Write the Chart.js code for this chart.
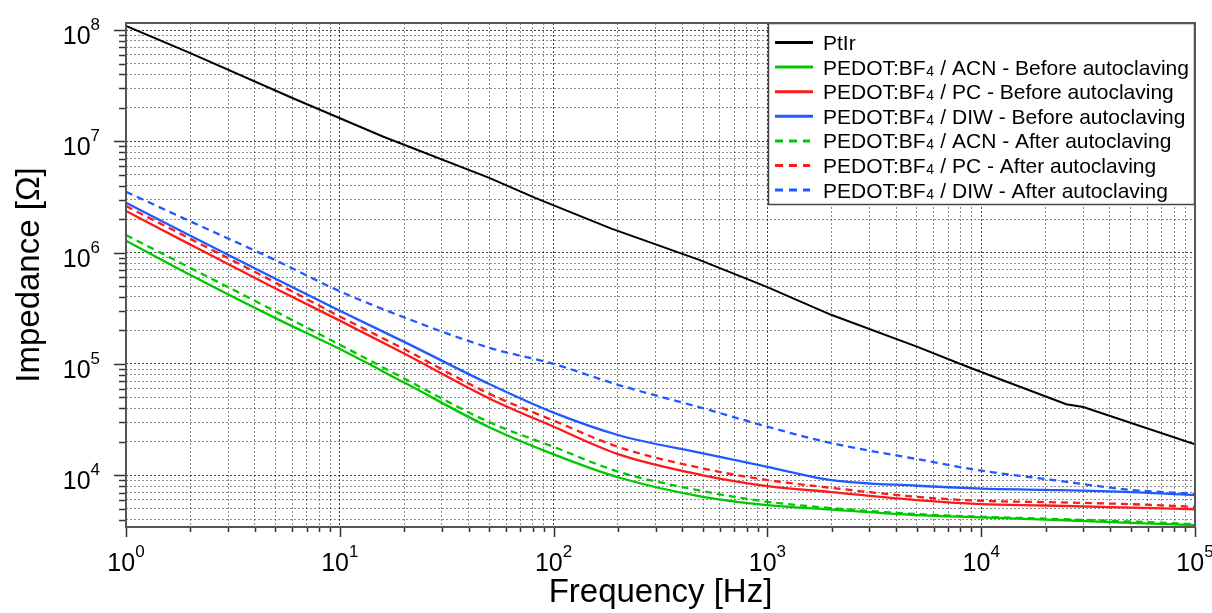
<!DOCTYPE html>
<html>
<head>
<meta charset="utf-8">
<script src="https://cdn.jsdelivr.net/npm/chart.js@4"></script>
<style>
  html, body { margin: 0; padding: 0; background: #fff; }
  canvas { display: block; }
</style>
</head>
<body>
<canvas id="impedanceChart" width="1212" height="613"></canvas>
<script>
"use strict";

// frequency points (Hz) shared by the PEDOT curves
const frequencies = [1, 2, 5, 10, 20, 50, 100, 200, 500, 1e3, 2e3, 5e3, 1e4, 2e4, 5e4, 1e5];

// PtIr reference electrode has its own sampling (small kinks)
const ptirFrequencies = [1, 2, 6, 16, 50, 82, 185, 480, 1000, 1550, 2000, 5000, 8000, 12000, 25000, 30000, 100000];
const ptirImpedance = [1.09e8, 6.2e7, 2.45e7, 1.1e7, 4.7e6, 3.1e6, 1.65e6, 8.6e5, 4.9e5, 3.4e5, 2.75e5, 1.43e5, 1.0e5, 7.4e4, 4.35e4, 4.1e4, 1.9e4];

// impedance (Ohm), before autoclaving
const acnBefore = [1.28e6, 6.3e5, 2.58e5, 1.36e5, 6.8e4, 2.7e4, 1.54e4, 9.6e3, 6.4e3, 5.4e3, 4.92e3, 4.39e3, 4.19e3, 4.0e3, 3.73e3, 3.57e3];
const pcBefore = [2.37e6, 1.18e6, 4.76e5, 2.45e5, 1.24e5, 4.9e4, 2.73e4, 1.55e4, 1.0e4, 8.0e3, 7.06e3, 5.98e3, 5.5e3, 5.35e3, 5.13e3, 4.95e3];
const diwBefore = [2.81e6, 1.42e6, 5.82e5, 3.0e5, 1.58e5, 6.6e4, 3.65e4, 2.3e4, 1.57e4, 1.19e4, 9.05e3, 8.05e3, 7.6e3, 7.4e3, 7.06e3, 6.64e3];

// impedance (Ohm), after autoclaving
const acnAfter = [1.44e6, 7.29e5, 2.97e5, 1.49e5, 7.4e4, 3.0e4, 1.8e4, 1.08e4, 7.2e3, 5.78e3, 5.07e3, 4.48e3, 4.24e3, 4.08e3, 3.84e3, 3.64e3];
const pcAfter = [2.62e6, 1.33e6, 5.38e5, 2.67e5, 1.36e5, 5.4e4, 3.1e4, 1.8e4, 1.15e4, 9.06e3, 7.7e3, 6.4e3, 5.9e3, 5.74e3, 5.5e3, 5.2e3];
const diwAfter = [3.52e6, 1.91e6, 8.55e5, 4.5e5, 2.62e5, 1.4e5, 1.0e5, 6.5e4, 4.0e4, 2.73e4, 1.94e4, 1.4e4, 1.1e4, 9.25e3, 7.4e3, 6.8e3];

const seriesLabels = [
  "PtIr",
  "PEDOT:BF₄ / ACN - Before autoclaving",
  "PEDOT:BF₄ / PC - Before autoclaving",
  "PEDOT:BF₄ / DIW - Before autoclaving",
  "PEDOT:BF₄ / ACN - After autoclaving",
  "PEDOT:BF₄ / PC - After autoclaving",
  "PEDOT:BF₄ / DIW - After autoclaving"
];

const FONT = "'Liberation Sans', Arial, sans-serif";
const GREEN = "rgb(0,200,0)";
const RED = "rgb(255,25,25)";
const BLUE = "rgb(30,90,255)";
const DASH = [7, 5];

function toPoints(xs, ys) {
  return xs.map((x, i) => ({ x: x, y: ys[i] }));
}

// 2 = decade, 1 = 2..9 x decade, 0 = anything else (axis limits)
function tickKind(v) {
  const e = Math.floor(Math.log10(v) + 1e-9);
  const m = v / Math.pow(10, e);
  if (Math.abs(m - Math.round(m)) > 1e-6) return 0;
  return Math.round(m) === 1 ? 2 : 1;
}

function gridColor(ctx) {
  if (!ctx.tick) return "transparent";
  const k = tickKind(ctx.tick.value);
  if (k === 0) return "transparent";
  return k === 2 ? "rgba(0,0,0,0.75)" : "rgba(0,0,0,0.45)";
}

function lineSet(label, data, color, dashed) {
  return {
    label: label,
    data: data,
    borderColor: color,
    backgroundColor: color,
    borderWidth: 2.3,
    borderDash: dashed ? DASH : [],
    pointRadius: 0,
    cubicInterpolationMode: "monotone",
    fill: false
  };
}

const datasets = [
  Object.assign(lineSet(seriesLabels[0], toPoints(ptirFrequencies, ptirImpedance), "#000", false), { cubicInterpolationMode: "default", tension: 0, borderWidth: 2 }),
  lineSet(seriesLabels[1], toPoints(frequencies, acnBefore), GREEN, false),
  lineSet(seriesLabels[2], toPoints(frequencies, pcBefore), RED, false),
  lineSet(seriesLabels[3], toPoints(frequencies, diwBefore), BLUE, false),
  lineSet(seriesLabels[4], toPoints(frequencies, acnAfter), GREEN, true),
  lineSet(seriesLabels[5], toPoints(frequencies, pcAfter), RED, true),
  lineSet(seriesLabels[6], toPoints(frequencies, diwAfter), BLUE, true)
];

// legend box in the upper right corner of the plot
const boxLegend = {
  id: "boxLegend",
  afterDatasetsDraw(chart) {
    const { ctx, chartArea: a } = chart;
    const w = 427, h = 182;
    const left = a.right - w, top = a.top;
    ctx.save();
    ctx.fillStyle = "#fff";
    ctx.fillRect(left, top, w, h);
    ctx.strokeStyle = "#444";
    ctx.lineWidth = 1.5;
    ctx.strokeRect(left + 0.5, top + 0.5, w - 1, h - 1);

    chart.data.datasets.forEach((ds, i) => {
      const cy = top + 19.5 + i * 24.6;
      ctx.strokeStyle = ds.borderColor;
      ctx.lineWidth = 3;
      ctx.setLineDash(ds.borderDash.length ? [8, 6] : []);
      ctx.beginPath();
      ctx.moveTo(left + 7, cy);
      ctx.lineTo(left + (ds.borderDash.length ? 42 : 45), cy);
      ctx.stroke();
      ctx.setLineDash([]);

      // text, with the small "4" of BF4
      const parts = ds.label.split("₄");
      let x = left + 55;
      const base = cy + 7.5;
      ctx.fillStyle = "#000";
      ctx.textBaseline = "alphabetic";
      ctx.textAlign = "left";
      ctx.font = "21px " + FONT;
      ctx.fillText(parts[0], x, base);
      x += ctx.measureText(parts[0]).width;
      if (parts.length > 1) {
        ctx.font = "14px " + FONT;
        ctx.fillText("4", x + 0.5, base + 1);
        x += ctx.measureText("4").width + 1;
        ctx.font = "21px " + FONT;
        ctx.fillText(parts[1], x, base);
      }
    });
    ctx.restore();
  }
};

// "10" with a raised exponent
function drawPower(ctx, exp, x, baseY, align) {
  ctx.font = "25px " + FONT;
  const wBase = ctx.measureText("10").width;
  ctx.font = "17px " + FONT;
  const wExp = ctx.measureText(exp).width;
  const total = wBase + wExp;
  const x0 = align === "center" ? x - total / 2 : x - total;
  ctx.font = "25px " + FONT;
  ctx.fillText("10", x0, baseY);
  ctx.font = "17px " + FONT;
  ctx.fillText(exp, x0 + wBase, baseY - 14);
}

// plot frame, outward tick marks (longer on decades) and decade labels
const frameTicks = {
  id: "frameTicks",
  afterDraw(chart) {
    const { ctx, chartArea: a, scales } = chart;
    ctx.save();
    ctx.strokeStyle = "#333";
    ctx.lineWidth = 1.5;
    ctx.beginPath();
    scales.x.ticks.forEach(t => {
      const k = tickKind(t.value);
      if (!k) return;
      const px = Math.round(scales.x.getPixelForValue(t.value)) + 0.5;
      ctx.moveTo(px, a.bottom);
      ctx.lineTo(px, a.bottom + (k === 2 ? 10 : 5));
    });
    scales.y.ticks.forEach(t => {
      const k = tickKind(t.value);
      if (!k) return;
      const py = Math.round(scales.y.getPixelForValue(t.value)) + 0.5;
      ctx.moveTo(a.left, py);
      ctx.lineTo(a.left - (k === 2 ? 12 : 7), py);
    });
    ctx.stroke();
    ctx.strokeStyle = "#555";
    ctx.lineWidth = 2;
    ctx.strokeRect(a.left, a.top, a.right - a.left, a.bottom - a.top);

    ctx.fillStyle = "#000";
    ctx.textBaseline = "alphabetic";
    ctx.textAlign = "left";
    scales.x.ticks.forEach(t => {
      if (tickKind(t.value) !== 2) return;
      const e = String(Math.round(Math.log10(t.value)));
      drawPower(ctx, e, scales.x.getPixelForValue(t.value), a.bottom + 44, "center");
    });
    scales.y.ticks.forEach(t => {
      if (tickKind(t.value) !== 2) return;
      const e = String(Math.round(Math.log10(t.value)));
      drawPower(ctx, e, a.left - 26, scales.y.getPixelForValue(t.value) + 14, "right");
    });
    ctx.restore();
  }
};

new Chart(document.getElementById("impedanceChart").getContext("2d"), {
  type: "line",
  data: { datasets: datasets },
  options: {
    responsive: false,
    animation: false,
    layout: { autoPadding: false, padding: { left: 0, right: 17, top: 23, bottom: 0 } },
    plugins: {
      legend: { display: false },
      tooltip: { enabled: false }
    },
    scales: {
      x: {
        type: "logarithmic",
        min: 1,
        max: 1e5,
        afterFit: s => { s.height = 86; s.paddingLeft = 0; s.paddingRight = 0; },
        border: { display: false, dash: [2, 2] },
        grid: { color: gridColor, lineWidth: 1, drawTicks: false },
        ticks: { display: false, autoSkip: false, maxRotation: 0 },
        title: {
          display: true,
          text: "Frequency [Hz]",
          color: "#000",
          font: { family: FONT, size: 33 },
          padding: { top: 0, bottom: 0 }
        }
      },
      y: {
        type: "logarithmic",
        min: 3430,
        max: 1.156e8,
        afterFit: s => { s.width = 126; s.paddingTop = 0; s.paddingBottom = 0; },
        border: { display: false, dash: [2, 2] },
        grid: { color: gridColor, lineWidth: 1, drawTicks: false },
        ticks: { display: false, autoSkip: false },
        title: {
          display: true,
          text: "Impedance [Ω]",
          color: "#000",
          font: { family: FONT, size: 33 },
          padding: { top: 10, bottom: 0 }
        }
      }
    }
  },
  plugins: [boxLegend, frameTicks]
});
</script>
</body>
</html>
